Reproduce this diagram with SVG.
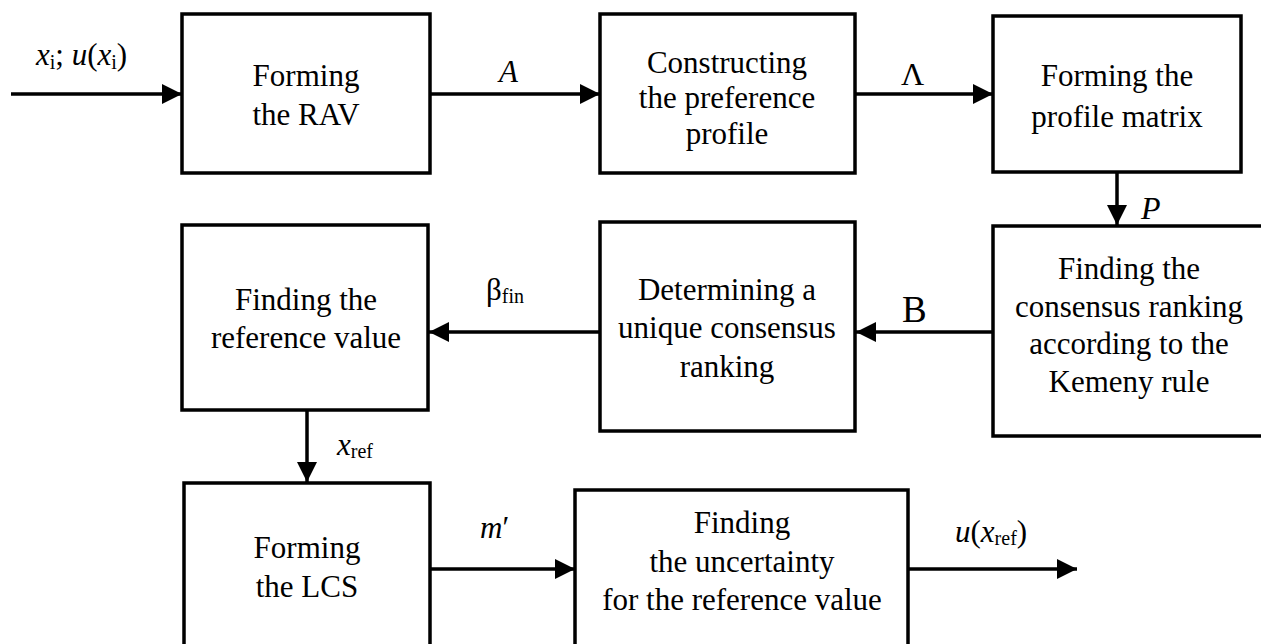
<svg xmlns="http://www.w3.org/2000/svg" width="1261" height="644" viewBox="0 0 1261 644">
<style>
.box{fill:#fff;stroke:#000;stroke-width:3.5}
text{font-family:'Liberation Serif','Times New Roman',Times,'DejaVu Serif',serif;font-size:31px;fill:#000}
.t{text-anchor:middle}
.i{font-style:italic}
.s{font-size:20px}
.c{stroke:#000;stroke-width:3.5;fill:none;marker-end:url(#ah)}
</style>
<defs>
<marker id="ah" markerUnits="userSpaceOnUse" markerWidth="22" markerHeight="22" refX="20" refY="10" orient="auto">
<path d="M0,0 L20,10 L0,20 z" fill="#000"/>
</marker>
</defs>
<rect width="1261" height="644" fill="#fff"/>
<g id="n1"><rect class="box" x="182" y="14" width="248" height="159"/>
<text class="t" x="306" y="86">Forming</text><text class="t" x="306" y="125">the RAV</text></g>
<g id="n2"><rect class="box" x="600" y="14" width="255" height="159"/>
<text class="t" x="727" y="73">Constructing</text><text class="t" x="727" y="108">the preference</text><text class="t" x="727" y="144">profile</text></g>
<g id="n3"><rect class="box" x="993" y="16" width="248" height="156"/>
<text class="t" x="1117" y="86">Forming the</text><text class="t" x="1117" y="127">profile matrix</text></g>
<g id="n4"><rect class="box" x="993" y="226" width="290" height="210"/>
<text class="t" x="1129" y="279">Finding the</text><text class="t" x="1129" y="317">consensus ranking</text><text class="t" x="1129" y="354">according to the</text><text class="t" x="1129" y="392">Kemeny rule</text></g>
<g id="n5"><rect class="box" x="600" y="222" width="255" height="209"/>
<text class="t" x="727" y="300">Determining a</text><text class="t" x="727" y="338">unique consensus</text><text class="t" x="727" y="377">ranking</text></g>
<g id="n6"><rect class="box" x="182" y="225" width="246" height="185"/>
<text class="t" x="306" y="310">Finding the</text><text class="t" x="306" y="348">reference value</text></g>
<g id="n7"><rect class="box" x="184" y="483" width="246" height="175"/>
<text class="t" x="307" y="558">Forming</text><text class="t" x="307" y="597">the LCS</text></g>
<g id="n8"><rect class="box" x="575" y="490" width="333" height="170"/>
<text class="t" x="742" y="533">Finding</text><text class="t" x="742" y="572">the uncertainty</text><text class="t" x="742" y="610">for the reference value</text></g>
<g id="connectors">
<line class="c" x1="11" y1="94" x2="182" y2="94"/>
<line class="c" x1="430" y1="94" x2="600" y2="94"/>
<line class="c" x1="855" y1="94" x2="993" y2="94"/>
<line class="c" x1="1117" y1="172" x2="1117" y2="225"/>
<line class="c" x1="993" y1="332" x2="856" y2="332"/>
<line class="c" x1="600" y1="332" x2="429" y2="332"/>
<line class="c" x1="307" y1="410" x2="307" y2="482"/>
<line class="c" x1="430" y1="569" x2="575" y2="569"/>
<line class="c" x1="908" y1="569" x2="1077" y2="569"/>
</g>
<g id="labels">
<text x="36" y="65"><tspan class="i">x</tspan><tspan class="s" dy="4">i</tspan><tspan dy="-4">; </tspan><tspan class="i">u</tspan><tspan>(</tspan><tspan class="i">x</tspan><tspan class="s" dy="4">i</tspan><tspan dy="-4">)</tspan></text>
<text class="i" x="499" y="82">A</text>
<text x="901" y="85" style="font-size:32px">Λ</text>
<text class="i" x="1141" y="219" style="font-size:32px">P</text>
<text x="902" y="322" style="font-size:37px">B</text>
<text x="486" y="300">β<tspan class="s" dy="3">fin</tspan></text>
<text x="337" y="455"><tspan class="i">x</tspan><tspan class="s" dy="3">ref</tspan></text>
<text x="480" y="538"><tspan class="i">m</tspan>′</text>
<text x="955" y="542"><tspan class="i">u</tspan>(<tspan class="i">x</tspan><tspan class="s" dy="3">ref</tspan><tspan dy="-3">)</tspan></text>
</g>
</svg>
